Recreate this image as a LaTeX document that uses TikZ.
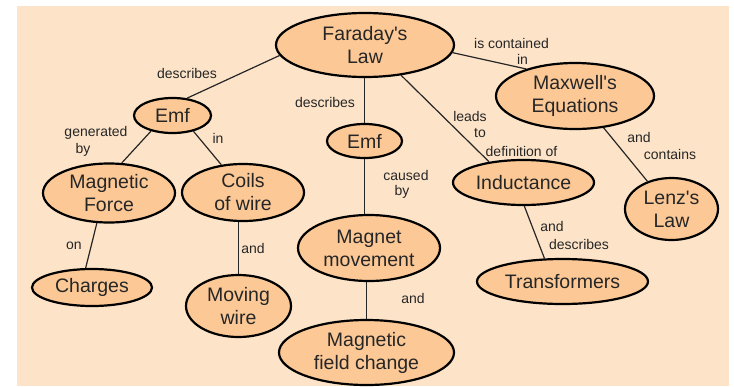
\documentclass[tikz,border=0pt]{standalone}
\usepackage{fontspec}
\setmainfont{Liberation Sans}
\usetikzlibrary{shapes.geometric}
\definecolor{bgc}{HTML}{FDE4C9}
\definecolor{nodefill}{HTML}{FBC896}
\definecolor{txt}{HTML}{262626}
\begin{document}
\begin{tikzpicture}[x=1pt,y=-1pt,
  concept/.style={ellipse, draw=black, line width=2.2pt, fill=nodefill, inner sep=0pt,
    align=center, text=txt, font=\fontsize{19.5}{23}\selectfont},
  lbl/.style={text=txt, font=\fontsize{14}{17}\selectfont, inner sep=0pt},
  conn/.style={draw=black!85, line width=1.2pt}]
\useasboundingbox (0,0) rectangle (734,386);
\fill[white] (0,0) rectangle (734,386);
\fill[bgc] (17,6) rectangle (729,386);

% concepts
\node[concept, minimum width=178pt, minimum height=64pt] (far) at (365,45) {Faraday\textquotesingle s\\Law};
\node[concept, minimum width=77pt, minimum height=35pt] (emfa) at (172.5,115.5) {Emf};
\node[concept, minimum width=75pt, minimum height=34pt] (emfb) at (364.5,141) {Emf};
\node[concept, minimum width=132pt, minimum height=59pt] (mf) at (109,193) {Magnetic\\Force};
\node[concept, minimum width=122pt, minimum height=57pt] (coils) at (243,192.5) {Coils\\of wire};
\node[concept, minimum width=120pt, minimum height=37pt] (charges) at (92,287.5) {Charges};
\node[concept, minimum width=105pt, minimum height=62pt] (mw) at (238.5,306) {Moving\\wire};
\node[concept, minimum width=142pt, minimum height=66pt] (mm) at (369,248) {Magnet\\movement};
\node[concept, minimum width=175pt, minimum height=65pt] (mfc) at (366.5,352.5) {Magnetic\\field change};
\node[concept, minimum width=141pt, minimum height=45pt] (ind) at (523.5,182.5) {Inductance};
\node[concept, minimum width=158pt, minimum height=66pt] (maxw) at (575,96) {Maxwell\textquotesingle s\\Equations};
\node[concept, minimum width=93pt, minimum height=62pt] (lenz) at (671.5,209) {Lenz\textquotesingle s\\Law};
\node[concept, minimum width=171pt, minimum height=45pt] (trans) at (562.5,281.5) {Transformers};

% connectors
\draw[conn] (far.187) -- (emfa.50);
\draw[conn] (emfb.north) -- (emfb.north |- far.south);
\draw[conn] (far.-5) -- (maxw.151);
\draw[conn] (far.-40) -- (ind.149);
\draw[conn] (emfa.216) -- (mf.67);
\draw[conn] (emfa.-37) -- (coils.128);
\draw[conn] (mf.248) -- (charges.108);
\draw[conn] (mw.north) -- (mw.north |- coils.south);
\draw[conn] (emfb.south) -- (emfb.south |- mm.north);
\draw[conn] (mfc.north) -- (mfc.north |- mm.south);
\draw[conn] (maxw.-48) -- (lenz.131);
\draw[conn] (ind.-88) -- (trans.128);

% labels
\node[lbl] (l1) at (187,73) {describes};
\node[lbl] (l2) at (325,102) {describes};
\node[lbl] (l3a) at (511.5,43) {is contained};
\node[lbl] (l3b) at (522.5,59) {in};
\node[lbl] (l4a) at (470,116) {leads};
\node[lbl] (l4b) at (480,133) {to};
\node[lbl] (l4c) at (521.5,151) {definition of};
\node[lbl] (l5a) at (96,133) {generated};
\node[lbl] (l5b) at (83,150) {by};
\node[lbl] (l6) at (218,138) {in};
\node[lbl] (l7) at (74,246) {on};
\node[lbl] (l8) at (253,248) {and};
\node[lbl] (l9a) at (406,175) {caused};
\node[lbl] (l9b) at (402,192) {by};
\node[lbl] (l10) at (413,298) {and};
\node[lbl] (l11a) at (639,137) {and};
\node[lbl] (l11b) at (670,154) {contains};
\node[lbl] (l12a) at (552,226) {and};
\node[lbl] (l12b) at (579,244) {describes};
\end{tikzpicture}
\end{document}
